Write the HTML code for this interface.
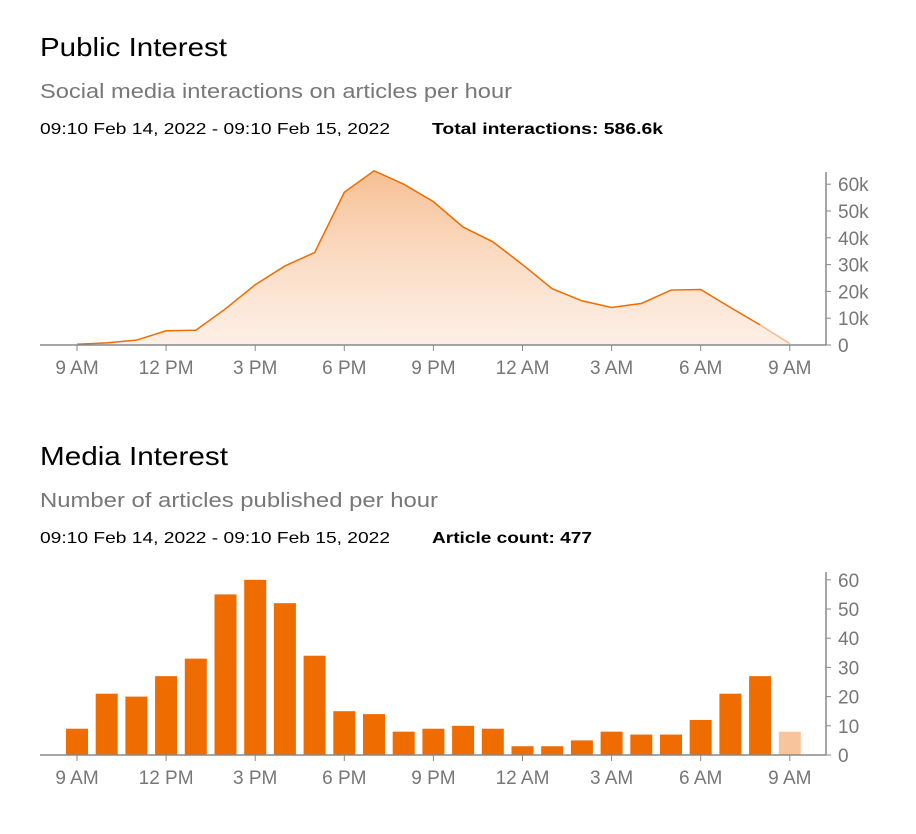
<!DOCTYPE html>
<html><head><meta charset="utf-8"><style>
body{margin:0;background:#fff;}
svg{display:block;font-family:"Liberation Sans",sans-serif;}
</style></head><body>
<svg width="916" height="834" viewBox="0 0 916 834">
<defs>
<linearGradient id="g" x1="0" y1="0" x2="0" y2="1">
<stop offset="0" stop-color="#f5b47f" stop-opacity="0.85"/>
<stop offset="1" stop-color="#fbe0cc" stop-opacity="0.5"/>
</linearGradient>
</defs>
<text x="40" y="56" font-size="26" fill="#000" textLength="187" lengthAdjust="spacingAndGlyphs">Public Interest</text>
<text x="40" y="98" font-size="20" fill="#777" textLength="472" lengthAdjust="spacingAndGlyphs">Social media interactions on articles per hour</text>
<text x="40" y="134" font-size="16" fill="#000" textLength="350" lengthAdjust="spacingAndGlyphs">09:10 Feb 14, 2022 - 09:10 Feb 15, 2022</text>
<text x="432" y="134" font-size="16" font-weight="bold" fill="#000" textLength="231" lengthAdjust="spacingAndGlyphs">Total interactions: 586.6k</text>

<text x="40" y="465" font-size="26" fill="#000" textLength="188" lengthAdjust="spacingAndGlyphs">Media Interest</text>
<text x="40" y="507" font-size="20" fill="#777" textLength="398" lengthAdjust="spacingAndGlyphs">Number of articles published per hour</text>
<text x="40" y="543" font-size="16" fill="#000" textLength="350" lengthAdjust="spacingAndGlyphs">09:10 Feb 14, 2022 - 09:10 Feb 15, 2022</text>
<text x="432" y="543" font-size="16" font-weight="bold" fill="#000" textLength="160" lengthAdjust="spacingAndGlyphs">Article count: 477</text>
<g id="c1"></g><g id="c2"></g>
</svg>
<script>
var ns="http://www.w3.org/2000/svg";
function el(p,t,a,txt){var e=document.createElementNS(ns,t);for(var k in a)e.setAttribute(k,a[k]);if(txt!=null)e.textContent=txt;p.appendChild(e);return e;}
var X=function(i){return 77+29.7*i;};
var labels=["9 AM","12 PM","3 PM","6 PM","9 PM","12 AM","3 AM","6 AM","9 AM"];
var v=[0.3,0.8,1.8,5.3,5.5,13.5,22.5,29.5,34.5,57,65,60,53.5,44,38.5,30,21,16.5,14,15.5,20.5,20.7,14,7.5,0.5];
var c1=document.getElementById("c1"),base=345;
var pts=v.map(function(d,i){return X(i)+","+(base-d*2.68);});
el(c1,"polygon",{points:X(0)+","+base+" "+pts.join(" ")+" "+X(24)+","+base,fill:"url(#g)"});
el(c1,"polyline",{points:pts.slice(0,24).join(" "),fill:"none",stroke:"#ef6c00","stroke-width":1.5});
el(c1,"polyline",{points:pts.slice(23).join(" "),fill:"none",stroke:"#f7b98a","stroke-width":1.5});
function axes(g,base,top,step,ticks){
 el(g,"line",{x1:40,y1:base,x2:826,y2:base,stroke:"#888","stroke-width":1.5});
 el(g,"line",{x1:826,y1:top,x2:826,y2:base,stroke:"#888","stroke-width":1.5});
 for(var i=0;i<ticks.length;i++){var y=base-i*step;
  el(g,"line",{x1:826,y1:y,x2:831,y2:y,stroke:"#888"});
  el(g,"text",{x:838,y:y+7,"font-size":19,fill:"#777"},ticks[i]);}
 for(var j=0;j<9;j++){var x=X(j*3);
  el(g,"line",{x1:x,y1:base,x2:x,y2:base+6,stroke:"#888"});
  el(g,"text",{x:x,y:base+29,"font-size":19,fill:"#777","text-anchor":"middle"},labels[j]);}
}
axes(c1,345,172,26.8,["0","10k","20k","30k","40k","50k","60k"]);
var b=[9,21,20,27,33,55,60,52,34,15,14,8,9,10,9,3,3,5,8,7,7,12,21,27,8];
var c2=document.getElementById("c2"),b2=755;
b.forEach(function(d,i){el(c2,"rect",{x:X(i)-11,y:b2-d*2.92,width:22,height:d*2.92,fill:i==24?"#f8c49b":"#ef6c00"});});
axes(c2,755,572,29.2,["0","10","20","30","40","50","60"]);
</script>
</body></html>
